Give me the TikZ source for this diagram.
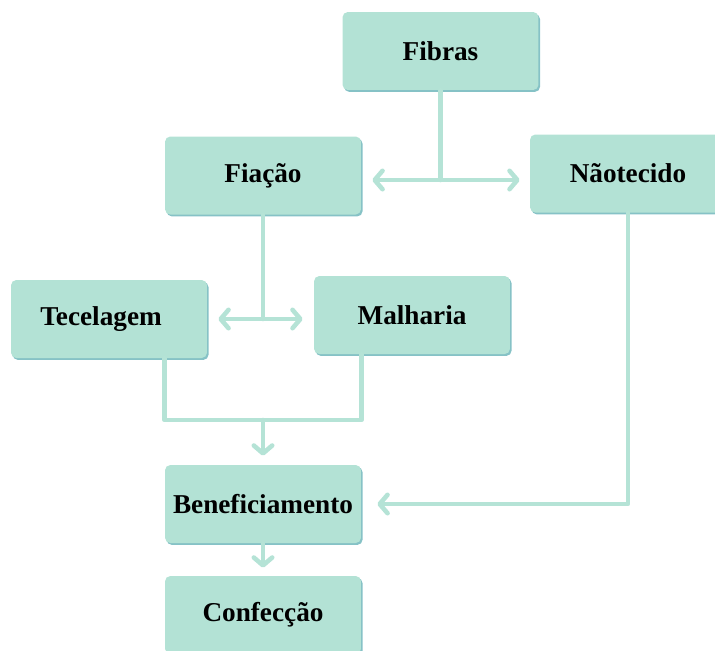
\documentclass[tikz,border=0pt]{standalone}
\usepackage{fontspec}
\setmainfont{Liberation Serif}
\usepackage{xcolor}
\usetikzlibrary{arrows.meta,shadows,calc}
\definecolor{boxmint}{HTML}{B3E2D5}
\definecolor{boxshade}{HTML}{86C2C6}
\definecolor{linemint}{HTML}{B5E3D6}

\begin{document}
\begin{tikzpicture}[x=0.02cm, y=-0.02cm,
    stage/.style={fill=boxmint, rounded corners=3pt, minimum width=3.92cm, minimum height=1.56cm,
        font=\fontsize{15.5}{18}\selectfont\bfseries, align=center, inner sep=0pt,
        drop shadow={shadow xshift=0.9pt, shadow yshift=-1.1pt, fill=boxshade, opacity=1}},
    conn/.style={draw=linemint, line width=2.6pt, line cap=round, line join=round},
    flow/.style={conn, -{Straight Barb[length=4.5pt, width=10.5pt, round]}}
]
    \clip (0,0) rectangle (715,650);

    % Stages
    \node[stage] (fibras) at (440.5,51) {Fibras};
    \node[stage] (fiacao) at (263,175.5) {Fiação};
    \node[stage] (naotecido) at (628,173.5) {Nãotecido};
    \node[stage] (tecelagem) at (109,319) {\hspace*{-0.32cm}Tecelagem};
    \node[stage] (malharia) at (412,315) {Malharia};
    \node[stage] (benef) at (263,504) {Beneficiamento};
    \node[stage] (confeccao) at (263,615) {Confecção};

    % Junctions
    \coordinate (j_fib) at (440.5,180);
    \coordinate (j_fia) at (263,319);
    \coordinate (j_tec) at (263,420);

    % Fibras -> Fiacao / Naotecido
    \draw[conn] (fibras.south) -- (j_fib);
    \draw[flow, shorten >=0.22cm] (j_fib) -- (j_fib -| fiacao.east);
    \draw[flow, shorten >=0.2cm] (j_fib) -- (j_fib -| naotecido.west);

    % Fiacao -> Tecelagem / Malharia
    \draw[conn] (fiacao.south) -- (j_fia);
    \draw[flow, shorten >=0.22cm] (j_fia) -- (j_fia -| tecelagem.east);
    \draw[flow, shorten >=0.22cm] (j_fia) -- (j_fia -| malharia.west);

    % Tecelagem + Malharia -> Beneficiamento
    \draw[conn] (tecelagem.south -| benef.west) -- (j_tec -| benef.west) -- (j_tec -| benef.east) -- (malharia.south -| benef.east);
    \draw[flow, shorten >=0.18cm] (j_tec) -- (benef.north);

    % Naotecido -> Beneficiamento
    \draw[flow, shorten >=0.32cm] (naotecido.south) -- (naotecido.south |- benef.east) -- (benef.east);

    % Beneficiamento -> Confeccao
    \draw[flow, shorten >=0.16cm] (benef.south) -- (confeccao.north);

\end{tikzpicture}
\end{document}
